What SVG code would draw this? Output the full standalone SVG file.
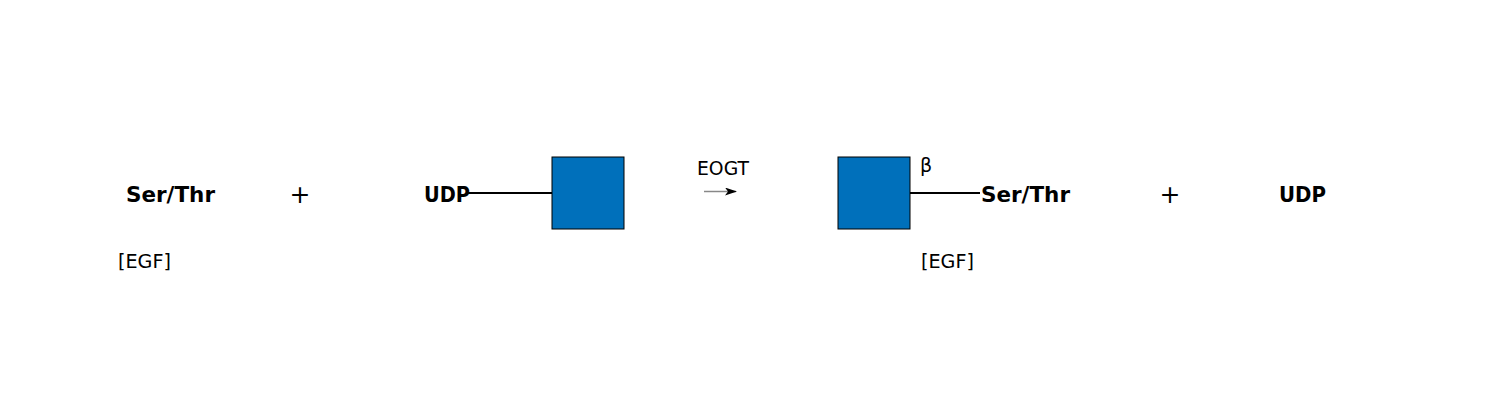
<svg xmlns="http://www.w3.org/2000/svg" width="1500" height="400" viewBox="0 0 1500 400">
<style>
text{font-family:"DejaVu Sans","Verdana",sans-serif;fill:#000}
.b{font-weight:bold;font-size:21px}
.n{font-size:19px}
.p{font-size:25px}
.sq{fill:#0070BB;stroke:#000;stroke-width:1}
.ln{stroke:#000;stroke-width:2;fill:none}
</style>
<defs>
<marker id="ah" markerWidth="12" markerHeight="8" refX="11" refY="4" orient="auto" markerUnits="userSpaceOnUse">
<path d="M0,0 L12,4 L0,8 L3,4 Z" fill="#000"/>
</marker>
</defs>
<g id="connectors">
<line class="ln" x1="468" y1="193" x2="552" y2="193"/>
<line class="ln" x1="910" y1="193" x2="980" y2="193"/>
<line x1="704" y1="191.5" x2="736" y2="191.5" stroke="#888" stroke-width="1.5" marker-end="url(#ah)"/>
</g>
<g id="ser1"><text class="b" x="126" y="202" textLength="89" lengthAdjust="spacingAndGlyphs">Ser/Thr</text></g>
<g id="egf1"><text class="n" x="118" y="268" textLength="53" lengthAdjust="spacingAndGlyphs">[EGF]</text></g>
<g id="plus1"><text class="p" x="300" y="203" text-anchor="middle">+</text></g>
<g id="udp1"><text class="b" x="424" y="202" textLength="46" lengthAdjust="spacingAndGlyphs">UDP</text></g>
<g id="glc1"><rect class="sq" x="552" y="157" width="72" height="72"/></g>
<g id="enzyme"><text class="n" x="697" y="175" textLength="52" lengthAdjust="spacingAndGlyphs">EOGT</text></g>
<g id="glc2"><rect class="sq" x="838" y="157" width="72" height="72"/></g>
<g id="beta"><text class="n" x="920" y="172" font-size="20">β</text></g>
<g id="ser2"><text class="b" x="981" y="202" textLength="89" lengthAdjust="spacingAndGlyphs">Ser/Thr</text></g>
<g id="egf2"><text class="n" x="921" y="268" textLength="53" lengthAdjust="spacingAndGlyphs">[EGF]</text></g>
<g id="plus2"><text class="p" x="1170" y="203" text-anchor="middle">+</text></g>
<g id="udp2"><text class="b" x="1279" y="202" textLength="47" lengthAdjust="spacingAndGlyphs">UDP</text></g>
</svg>
